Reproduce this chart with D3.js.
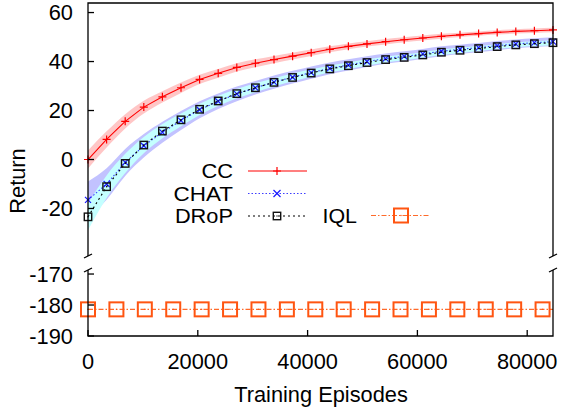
<!DOCTYPE html>
<html>
<head>
<meta charset="utf-8">
<script src="https://cdn.jsdelivr.net/npm/d3@7"></script>
<style>
  body { margin: 0; background: #fff; }
  svg text { font-family: "Liberation Sans", Arial, Helvetica, sans-serif; font-size: 21.8px; fill: #000; }
  svg text.leg { font-size: 19.5px; }
</style>
</head>
<body>
<div id="chart"></div>
<script>
// training episodes where curves were sampled
var episodes = [0, 3388, 6776, 10164, 13552, 16940, 20328, 23716, 27104, 30492, 33880, 37268, 40656,
    44044, 47432, 50820, 54208, 57596, 60984, 64372, 67760, 71148, 74536, 77924, 81312, 84700];

var ccReturn = [0, 8.2, 15.6, 21.4, 25.6, 29.3, 32.7, 35.2, 37.6, 39.3, 40.8, 42.2, 43.6,
    45.0, 46.2, 47.2, 48.1, 48.9, 49.6, 50.3, 50.9, 51.4, 51.9, 52.3, 52.6, 52.9];
var ccStd = [3.7, 3.3, 2.9, 2.6, 2.3, 2.1, 1.9, 1.8, 1.7, 1.6, 1.5, 1.4, 1.3,
    1.2, 1.2, 1.1, 1.1, 1.0, 1.0, 1.0, 0.9, 0.9, 0.9, 0.9, 0.9, 0.9];

var chatReturn = [-16.5, -10.0, -1.2, 5.6, 11.1, 15.9, 20.3, 23.8, 26.8, 29.3, 31.6, 33.6, 35.5,
    37.2, 38.6, 40.0, 41.2, 42.1, 43.1, 44.2, 45.0, 45.7, 46.5, 47.2, 47.7, 48.1];
var chatStd = [7.5, 6.4, 5.5, 4.8, 4.3, 3.9, 3.5, 3.2, 3.0, 2.8, 2.7, 2.6, 2.5,
    2.4, 2.3, 2.2, 2.1, 2.1, 2.0, 2.0, 1.9, 1.9, 1.9, 1.8, 1.8, 1.8];

var dropReturn = [-23.4, -11.1, -1.6, 5.9, 11.6, 16.2, 20.5, 23.9, 26.9, 29.3, 31.5, 33.5, 35.3,
    37.0, 38.3, 39.6, 40.8, 41.7, 42.7, 43.8, 44.6, 45.3, 46.1, 46.8, 47.3, 47.7];
var dropStd = [5.5, 4.6, 3.9, 3.3, 2.9, 2.6, 2.3, 2.1, 1.9, 1.8, 1.7, 1.6, 1.5,
    1.4, 1.3, 1.3, 1.2, 1.2, 1.1, 1.1, 1.1, 1.0, 1.0, 1.0, 1.0, 1.0];

// IQL sits far below, on the lower (broken) panel
var iqlEpisodes = [0, 5175, 10350, 15525, 20700, 25875, 31050, 36225, 41400, 46575, 51750,
    56925, 62100, 67275, 72450, 77625, 82800, 84700];
var iqlReturn = [-181.4, -181.4, -181.4, -181.4, -181.4, -181.4, -181.4, -181.4, -181.4, -181.4,
    -181.4, -181.4, -181.4, -181.4, -181.4, -181.4, -181.4, -181.4];

var xTicks = [0, 20000, 40000, 60000, 80000];
var yTicksTop = [-20, 0, 20, 40, 60];
var yTicksBottom = [-190, -180, -170];

var width = 561, height = 411;
var left = 88, right = 553;
var topY0 = 3, topY1 = 256, botY0 = 270, botY1 = 336;

var svg = d3.select("#chart").append("svg")
    .attr("width", width)
    .attr("height", height);

var x = d3.scaleLinear().domain([0, 84700]).range([left, right]);
var yTop = d3.scaleLinear().domain([-39.4, 63.9]).range([topY1, topY0]);
var yBot = d3.scaleLinear().domain([-190, -168.7]).range([botY1, botY0]);

function rows(ys, sd) {
    return episodes.map(function(e, i) {
        return { x: e, y: ys[i], lo: ys[i] - sd[i], hi: ys[i] + sd[i] };
    });
}
var cc = rows(ccReturn, ccStd),
    chat = rows(chatReturn, chatStd),
    drop = rows(dropReturn, dropStd);

svg.append("clipPath").attr("id", "clipTop")
  .append("rect").attr("x", left).attr("y", topY0).attr("width", right - left).attr("height", topY1 - topY0);

var band = d3.area()
    .x(function(d) { return x(d.x); })
    .y0(function(d) { return yTop(d.lo); })
    .y1(function(d) { return yTop(d.hi); })
    .curve(d3.curveMonotoneX);

var bands = svg.append("g").attr("clip-path", "url(#clipTop)");
bands.append("path").datum(chat).attr("d", band).attr("fill", "#c2c2ff");
bands.append("path").datum(drop).attr("d", band).attr("fill", "#c4ffff");
bands.append("path").datum(cc).attr("d", band).attr("fill", "#ffb8b8").attr("fill-opacity", 0.8);

var line = d3.line()
    .x(function(d) { return x(d.x); })
    .y(function(d) { return yTop(d.y); });

// marker drawers
function plus(g, cx, cy, r, col) {
    g.append("path").attr("d", "M" + (cx - r) + "," + cy + "H" + (cx + r) + "M" + cx + "," + (cy - r) + "V" + (cy + r))
        .attr("stroke", col).attr("stroke-width", 1.2).attr("fill", "none");
}
function cross(g, cx, cy, r, col) {
    g.append("path").attr("d", "M" + (cx - r) + "," + (cy - r) + "L" + (cx + r) + "," + (cy + r) +
        "M" + (cx - r) + "," + (cy + r) + "L" + (cx + r) + "," + (cy - r))
        .attr("stroke", col).attr("stroke-width", 1.2).attr("fill", "none");
}
function square(g, cx, cy, r, col, sw) {
    g.append("rect").attr("x", cx - r).attr("y", cy - r).attr("width", 2 * r).attr("height", 2 * r)
        .attr("stroke", col).attr("stroke-width", sw).attr("fill", "none");
    g.append("rect").attr("x", cx - 0.6).attr("y", cy - 0.6).attr("width", 1.2).attr("height", 1.2).attr("fill", col);
}

var marks = svg.append("g");

// CC
marks.append("path").datum(cc).attr("d", line)
    .attr("fill", "none").attr("stroke", "#ff0000").attr("stroke-width", 1.1);
cc.forEach(function(d) { plus(marks, x(d.x), yTop(d.y), 4, "#ff0000"); });

// CHAT
marks.append("path").datum(chat).attr("d", line)
    .attr("fill", "none").attr("stroke", "#3c3cff").attr("stroke-width", 1.1).attr("stroke-dasharray", "1.5,2");
chat.forEach(function(d) { cross(marks, x(d.x), yTop(d.y), 3, "#1a1aff"); });

// DRoP
marks.append("path").datum(drop).attr("d", line)
    .attr("fill", "none").attr("stroke", "#000").attr("stroke-width", 1.1).attr("stroke-dasharray", "2,3");
drop.forEach(function(d) { square(marks, x(d.x), yTop(d.y), 3.7, "#111", 1.4); });

// IQL on lower panel
var iql = iqlEpisodes.map(function(e, i) { return { x: e, y: iqlReturn[i] }; });
marks.append("path").datum(iql)
    .attr("d", d3.line().x(function(d) { return x(d.x); }).y(function(d) { return yBot(d.y); }))
    .attr("fill", "none").attr("stroke", "#ff6a2a").attr("stroke-width", 1.2).attr("stroke-dasharray", "5,2,1.5,2");
iql.slice(0, -1).forEach(function(d) { square(marks, x(d.x), yBot(d.y), 7, "#ff5511", 2); });

// axes frames
var ax = svg.append("g").attr("stroke", "#000").attr("stroke-width", 1.3).attr("fill", "none");
ax.append("path").attr("d", "M" + left + "," + topY1 + "V" + topY0 + "H" + right + "V" + topY1);
ax.append("path").attr("d", "M" + left + "," + botY0 + "V" + botY1 + "H" + right + "V" + botY0);
// break marks
[left, right].forEach(function(bx) {
    ax.append("path").attr("d", "M" + (bx - 4) + "," + (topY1 + 2) + "L" + (bx + 4) + "," + (topY1 - 2));
    ax.append("path").attr("d", "M" + (bx - 4) + "," + (botY0 + 2) + "L" + (bx + 4) + "," + (botY0 - 2));
});

// ticks (inward)
yTicksTop.forEach(function(t) {
    ax.append("line").attr("x1", left).attr("x2", left + 6).attr("y1", yTop(t)).attr("y2", yTop(t));
});
yTicksBottom.forEach(function(t) {
    ax.append("line").attr("x1", left).attr("x2", left + 6).attr("y1", yBot(t)).attr("y2", yBot(t));
});
xTicks.forEach(function(t) {
    ax.append("line").attr("x1", x(t)).attr("x2", x(t)).attr("y1", botY1).attr("y2", botY1 - 6);
});

var labels = svg.append("g");
yTicksTop.forEach(function(t) {
    labels.append("text").attr("x", 73).attr("y", yTop(t) + 7.8).attr("text-anchor", "end").text(t);
});
yTicksBottom.forEach(function(t) {
    labels.append("text").attr("x", 73).attr("y", yBot(t) + 7.8).attr("text-anchor", "end").text(t);
});
xTicks.forEach(function(t) {
    labels.append("text").attr("x", x(t)).attr("y", 369).attr("text-anchor", "middle").text(t);
});
labels.append("text").attr("x", 321).attr("y", 402).attr("text-anchor", "middle").text("Training Episodes");
labels.append("text").attr("transform", "translate(25,181) rotate(-90)").attr("text-anchor", "middle").text("Return");

// legend (text squeezed vertically so the tight rows do not collide)
var lg = svg.append("g");
function legendRow(tx, ly, name, w) {
    lg.append("text").attr("class", "leg").attr("x", tx).attr("y", ly + 7.2)
        .attr("text-anchor", "end")
        .attr("textLength", w).attr("lengthAdjust", "spacingAndGlyphs")
        .text(name);
}
legendRow(233, 171, "CC", 31.5);
lg.append("line").attr("x1", 248).attr("x2", 307).attr("y1", 171).attr("y2", 171)
    .attr("stroke", "#ff0000").attr("stroke-width", 1.1);
plus(lg, 277, 171, 4, "#ff0000");

legendRow(233, 193.5, "CHAT", 59.4);
lg.append("line").attr("x1", 248).attr("x2", 307).attr("y1", 193.5).attr("y2", 193.5)
    .attr("stroke", "#3c3cff").attr("stroke-width", 1.1).attr("stroke-dasharray", "1.5,2");
cross(lg, 277, 193.5, 3.5, "#1a1aff");

legendRow(233, 216, "DRoP", 58.1);
lg.append("line").attr("x1", 248).attr("x2", 307).attr("y1", 216).attr("y2", 216)
    .attr("stroke", "#000").attr("stroke-width", 1.1).attr("stroke-dasharray", "2,3");
square(lg, 277, 216, 3.7, "#111", 1.4);

legendRow(357, 215.5, "IQL", 34.5);
lg.append("line").attr("x1", 371).attr("x2", 429).attr("y1", 215.5).attr("y2", 215.5)
    .attr("stroke", "#ff6a2a").attr("stroke-width", 1.2).attr("stroke-dasharray", "5,2,1.5,2");
square(lg, 401, 215.5, 7, "#ff5511", 2);
</script>
</body>
</html>
